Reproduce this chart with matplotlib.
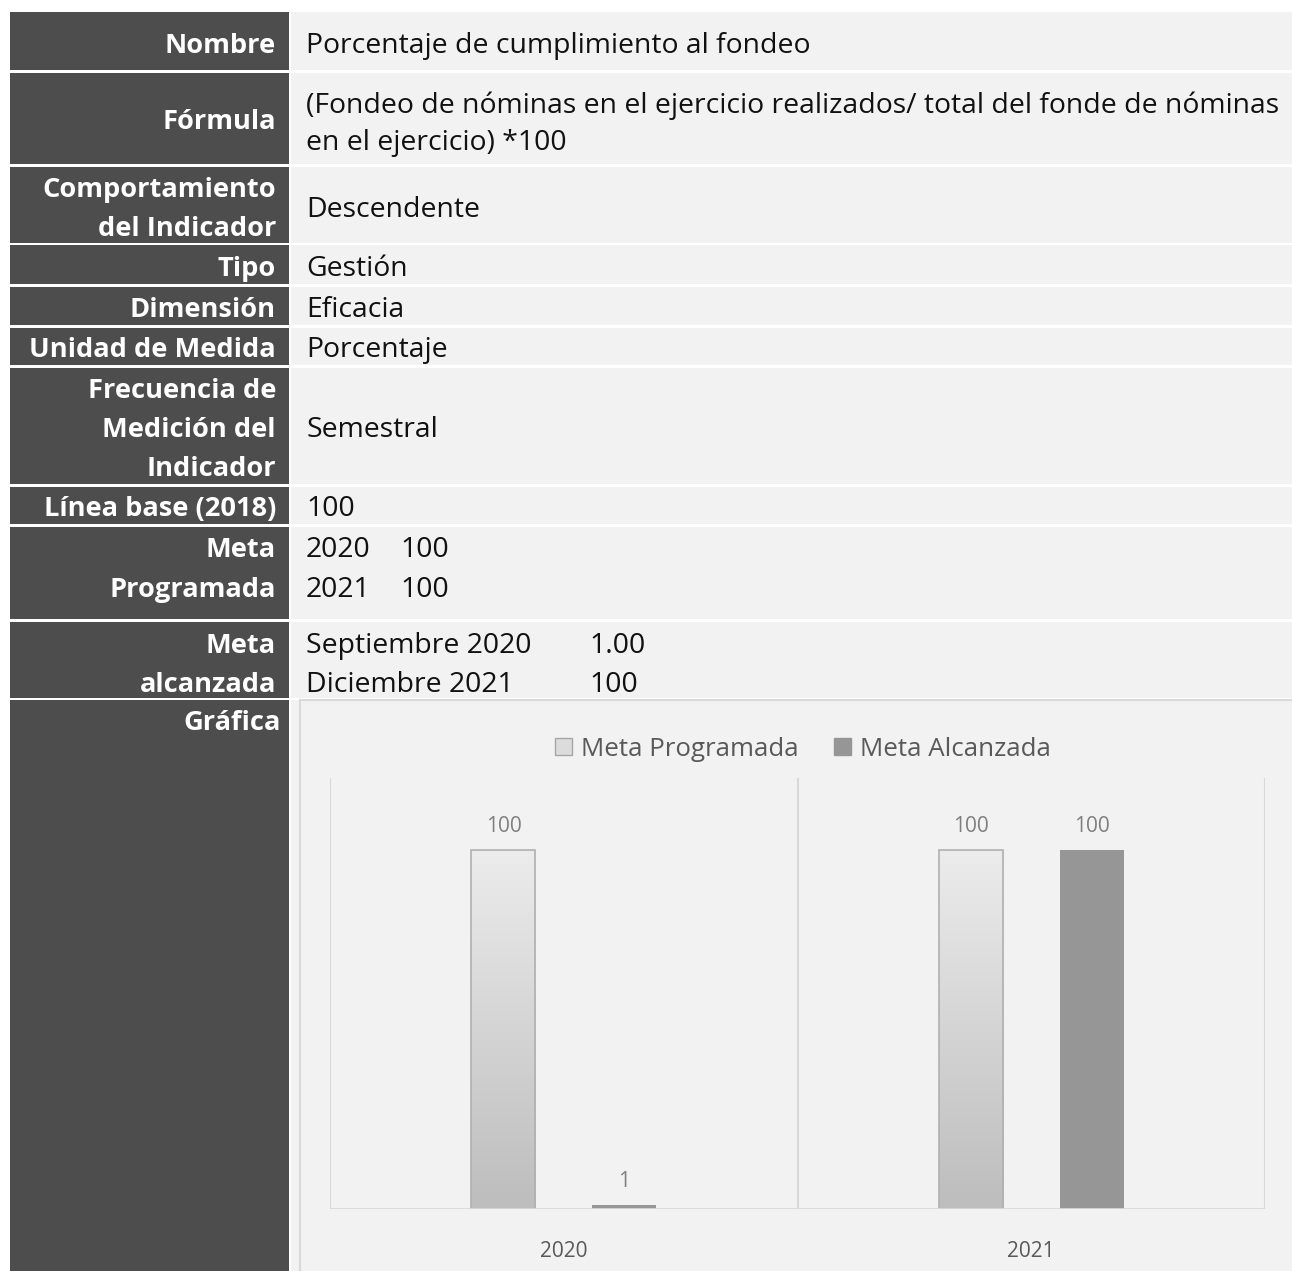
import matplotlib
matplotlib.use("Agg")
import matplotlib.pyplot as plt
import numpy as np
from matplotlib.patches import Rectangle, Patch
from matplotlib.colors import LinearSegmentedColormap

plt.rcParams['font.family'] = ['Open Sans', 'DejaVu Sans']

# ---------------- data ----------------
row_labels = ["Nombre", "Fórmula", "Comportamiento\ndel Indicador", "Tipo", "Dimensión",
              "Unidad de Medida", "Frecuencia de\nMedición del\nIndicador", "Línea base (2018)",
              "Meta\nProgramada", "Meta\nalcanzada", "Gráfica"]
row_values = ["Porcentaje de cumplimiento al fondeo",
              "(Fondeo de nóminas en el ejercicio realizados/ total del fonde de nóminas\nen el ejercicio) *100",
              "Descendente", "Gestión", "Eficacia", "Porcentaje", "Semestral", "100", None, None, None]
meta_prog_years = ["2020", "2021"]
meta_prog_vals = ["100", "100"]
meta_alc_periods = ["Septiembre 2020", "Diciembre 2021"]
meta_alc_vals = ["1.00", "100"]

categories = ["2020", "2021"]
meta_programada = [100, 100]
meta_alcanzada = [1, 100]
series_names = ["Meta Programada", "Meta Alcanzada"]

# ---------------- layout ----------------
W, H = 1292, 1271
fig = plt.figure(figsize=(W / 100, H / 100), dpi=100)
fig.patch.set_facecolor("white")
bg = fig.add_axes([0, 0, 1, 1])
bg.set_xlim(0, W)
bg.set_ylim(H, 0)
bg.axis("off")

row_bounds = [(12, 70), (73, 164), (167, 243), (245, 284), (287, 325), (328, 365),
              (368, 484), (487, 524), (527, 619), (622, 698), (700, 1271)]
# vertical positions of label lines and value lines (pixel rows)
label_ys = [[46], [122], [190, 229], [269], [310], [350], [391, 430, 469], [509],
            [550, 590], [646, 685], [723]]
value_ys = [[46], [106, 143], [210], [269], [310], [350], [430], [509], None, None, None]
left_x0, left_x1 = 10, 289
right_x0 = 291
dark = "#4d4d4d"
light = "#f2f2f2"
fs = 20.4
fsb = 19.6

for i, (y0, y1) in enumerate(row_bounds):
    bg.add_patch(Rectangle((left_x0, y0), left_x1 - left_x0, y1 - y0, color=dark, lw=0))
    bg.add_patch(Rectangle((right_x0, y0), W - right_x0, y1 - y0, color=light, lw=0))
    lab = row_labels[i]
    lx = 281 if lab == "Gráfica" else 276
    for ln, yy in zip(lab.split("\n"), label_ys[i]):
        bg.text(lx, yy, ln, ha="right", va="center", color="white", fontsize=fsb, fontweight="bold")
    val = row_values[i]
    if val is not None:
        for ln, yy in zip(val.split("\n"), value_ys[i]):
            bg.text(306, yy, ln, ha="left", va="center", color="#111111", fontsize=fs)

for yr, v, yy in zip(meta_prog_years, meta_prog_vals, [550, 590]):
    bg.text(306, yy, yr, ha="left", va="center", color="#111111", fontsize=fs)
    bg.text(400, yy, v, ha="left", va="center", color="#111111", fontsize=fs)
for p, v, yy in zip(meta_alc_periods, meta_alc_vals, [646, 685]):
    bg.text(306, yy, p, ha="left", va="center", color="#111111", fontsize=fs)
    bg.text(589, yy, v, ha="left", va="center", color="#111111", fontsize=fs)

# chart area border
bg.plot([300, 300], [700, 1271], color="#d9d9d9", lw=1.5)
bg.plot([300, W], [700, 700], color="#d9d9d9", lw=1.5)

# ---------------- bar chart ----------------
px0, px1, py_top, py_base = 330, 1265, 778, 1209
ax = fig.add_axes([px0 / W, (H - py_base) / H, (px1 - px0) / W, (py_base - py_top) / H])
ax.set_facecolor("none")
x = np.arange(len(categories))
bw = 0.137
off = 0.129
ymax = 120

grad = np.linspace(0, 1, 256).reshape(-1, 1)
cmap = LinearSegmentedColormap.from_list("g", ["#bdbdbd", "#ececec"])

bars_p = ax.bar(x - off, meta_programada, bw, color="none", edgecolor="#b0b0b0", lw=1.2, zorder=3,
                label=series_names[0])
for b in bars_p:
    bx, by = b.get_x(), b.get_y()
    im = ax.imshow(grad, extent=[bx, bx + b.get_width(), by, by + b.get_height()], origin="lower",
                   cmap=cmap, aspect="auto", zorder=2)
    im.set_clip_path(b)
bars_a = ax.bar(x + off, meta_alcanzada, bw, color="#969696", edgecolor="#969696", lw=0, zorder=3,
                label=series_names[1])

for xs, vals in ((x - off, meta_programada), (x + off, meta_alcanzada)):
    for xi, v in zip(xs, vals):
        ax.annotate(f"{v}", (xi, v), xytext=(0, 17), textcoords="offset points", ha="center",
                    va="center", fontsize=15, color="#7f7f7f")

ax.set_xlim(-0.5, len(categories) - 0.5)
ax.set_ylim(0, ymax)
for s in ax.spines.values():
    s.set_visible(False)
for xv in np.arange(-0.5, len(categories), 1.0):
    ax.axvline(xv, color="#d9d9d9", lw=1.5, zorder=1)
ax.axhline(0, color="#d9d9d9", lw=2, zorder=4)
ax.set_yticks([])
ax.set_xticks(x)
ax.set_xticklabels(categories, fontsize=15, color="#595959")
ax.tick_params(axis="x", length=0, pad=23)

handles = [Patch(facecolor="#dcdcdc", edgecolor="#a6a6a6", label=series_names[0]),
           Patch(facecolor="#969696", edgecolor="#969696", label=series_names[1])]
fig.legend(handles=handles, loc="center", bbox_to_anchor=(803 / W, (H - 749) / H), ncol=2,
           frameon=False, fontsize=18.6, labelcolor="#595959", handlelength=0.65, handleheight=0.65,
           handletextpad=0.35, columnspacing=1.4)

fig.savefig("out.png", dpi=100, facecolor="white")
